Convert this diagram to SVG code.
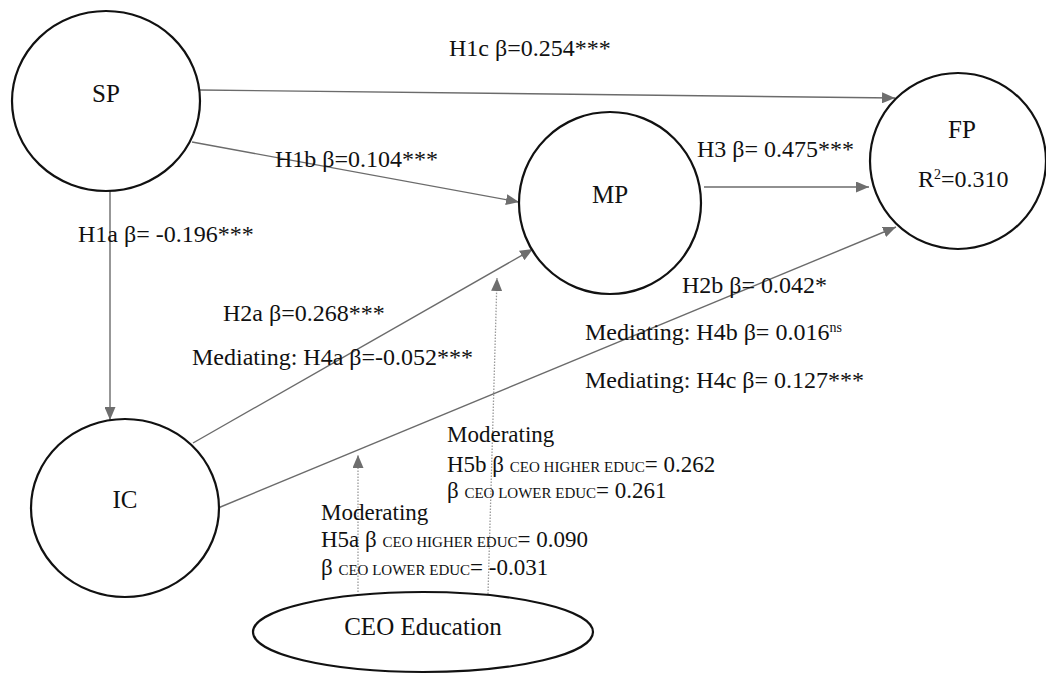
<svg xmlns="http://www.w3.org/2000/svg" width="1046" height="674" viewBox="0 0 1046 674">
<style>
.node{fill:#fff;stroke:#111;stroke-width:2.2}
.lbl{font-family:"Liberation Serif","Times New Roman",serif;fill:#111;font-size:24px}
.mod{font-family:"Liberation Serif","Times New Roman",serif;fill:#111;font-size:23px}
.name{font-family:"Liberation Serif","Times New Roman",serif;fill:#111;font-size:25px;text-anchor:middle}
.sc{font-size:15px}
.edge{stroke:#6b6b6b;stroke-width:1.4;fill:none}
.dot{stroke:#9a9a9a;stroke-width:1.3;fill:none;stroke-dasharray:1.5 1.5}
</style>
<defs>
<marker id="ah" markerUnits="userSpaceOnUse" markerWidth="13" markerHeight="11" refX="13" refY="5.5" orient="auto">
<path d="M0,0 L13,5.5 L0,11 z" fill="#6e6e6e"/>
</marker>
</defs>
<rect width="1046" height="674" fill="#fff"/>
<g id="connectors">
<line class="edge" x1="200" y1="90" x2="895" y2="98" marker-end="url(#ah)"/>
<line class="edge" x1="192" y1="142" x2="519" y2="202" marker-end="url(#ah)"/>
<line class="edge" x1="110" y1="191" x2="110" y2="420" marker-end="url(#ah)"/>
<line class="edge" x1="704" y1="187" x2="869" y2="187" marker-end="url(#ah)"/>
<line class="edge" x1="193" y1="443" x2="533" y2="249" marker-end="url(#ah)"/>
<line class="edge" x1="218" y1="508" x2="896" y2="227" marker-end="url(#ah)"/>
<line class="dot" x1="358" y1="592" x2="358" y2="455" marker-end="url(#ah)"/>
<line class="dot" x1="488" y1="594" x2="497" y2="278" marker-end="url(#ah)"/>
</g>
<g id="node-SP">
<ellipse class="node" cx="106" cy="101" rx="94" ry="90"/>
<text class="name" x="106" y="102">SP</text>
</g>
<g id="node-MP">
<circle class="node" cx="610" cy="203" r="91"/>
<text class="name" x="610" y="203">MP</text>
</g>
<g id="node-FP">
<circle class="node" cx="958" cy="161" r="88"/>
<text class="name" x="962" y="138">FP</text>
<text class="lbl" x="918" y="187" font-size="22">R<tspan dy="-8" font-size="14">2</tspan><tspan dy="8">=0.310</tspan></text>
</g>
<g id="node-IC">
<ellipse class="node" cx="125" cy="508" rx="94" ry="89"/>
<text class="name" x="125" y="508">IC</text>
</g>
<g id="node-CEO">
<ellipse class="node" cx="423" cy="632" rx="170" ry="40"/>
<text class="name" x="423" y="635" font-size="23">CEO Education</text>
</g>
<g id="labels">
<text class="lbl" x="449" y="56">H1c β=0.254***</text>
<text class="lbl" x="275" y="167">H1b β=0.104***</text>
<text class="lbl" x="78" y="242">H1a β= -0.196***</text>
<text class="lbl" x="697" y="157">H3 β= 0.475***</text>
<text class="lbl" x="223" y="321">H2a β=0.268***</text>
<text class="lbl" x="192" y="365">Mediating: H4a β=-0.052***</text>
<text class="lbl" x="682" y="293">H2b β= 0.042*</text>
<text class="lbl" x="585" y="340">Mediating: H4b β= 0.016<tspan dy="-8" font-size="14">ns</tspan></text>
<text class="lbl" x="585" y="388">Mediating: H4c β= 0.127***</text>
<text class="mod" x="447" y="442">Moderating</text>
<text class="mod" x="447" y="472">H5b β <tspan class="sc">CEO HIGHER EDUC</tspan>= 0.262</text>
<text class="mod" x="447" y="498">β <tspan class="sc">CEO LOWER EDUC</tspan>= 0.261</text>
<text class="mod" x="321" y="520">Moderating</text>
<text class="mod" x="321" y="547">H5a β <tspan class="sc">CEO HIGHER EDUC</tspan>= 0.090</text>
<text class="mod" x="321" y="575">β <tspan class="sc">CEO LOWER EDUC</tspan>= -0.031</text>
</g>
</svg>
